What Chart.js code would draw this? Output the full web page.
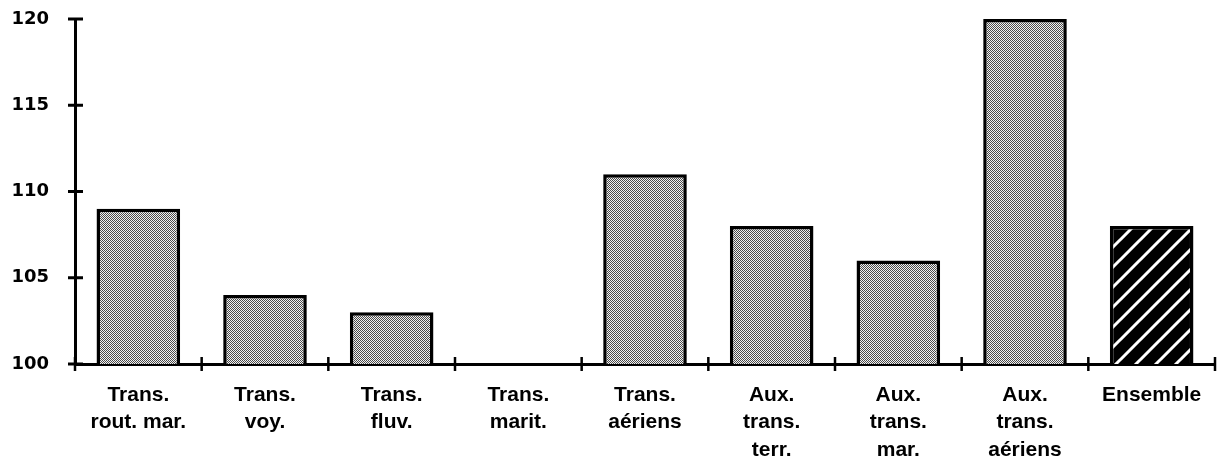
<!DOCTYPE html>
<html>
<head>
<meta charset="utf-8">
<script src="https://cdn.jsdelivr.net/npm/chart.js@4.4.1/dist/chart.umd.min.js"></script>
<style>
  html, body { margin: 0; padding: 0; background: #fff; }
  #wrap { width: 1220px; height: 460px; }
</style>
</head>
<body>
<div id="wrap"><canvas id="chart" width="1220" height="460"></canvas></div>
<script>
// categories and values
const categories = [
  ["Trans.", "rout. mar."],
  ["Trans.", "voy."],
  ["Trans.", "fluv."],
  ["Trans.", "marit."],
  ["Trans.", "aériens"],
  ["Aux.", "trans.", "terr."],
  ["Aux.", "trans.", "mar."],
  ["Aux.", "trans.", "aériens"],
  ["Ensemble"]
];
const values = [109, 104, 103, 100, 111, 108, 106, 120, 108];
const yTicks = [100, 105, 110, 115, 120];

// stippled grey fill (fine checkerboard)
function makeStipple() {
  const c = document.createElement("canvas");
  c.width = 2; c.height = 2;
  const g = c.getContext("2d");
  g.fillStyle = "#f2f2f2";
  g.fillRect(0, 0, 2, 2);
  g.fillStyle = "#4a4a4a";
  g.fillRect(0, 0, 1, 1);
  g.fillRect(1, 1, 1, 1);
  return g.createPattern(c, "repeat");
}

// black with white diagonal stripes
function makeHatch() {
  const s = 20;
  const c = document.createElement("canvas");
  c.width = s; c.height = s;
  const g = c.getContext("2d");
  g.fillStyle = "#000";
  g.fillRect(0, 0, s, s);
  g.strokeStyle = "#fff";
  g.lineWidth = 3;
  g.beginPath();
  g.moveTo(0, s); g.lineTo(s, 0);
  g.moveTo(-s / 2, s / 2); g.lineTo(s / 2, -s / 2);
  g.moveTo(s / 2, s * 1.5); g.lineTo(s * 1.5, s / 2);
  g.stroke();
  return g.createPattern(c, "repeat");
}

const stipple = makeStipple();
const hatch = makeHatch();
const fills = values.map((v, i) => i === values.length - 1 ? hatch : stipple);

// tick marks that cross the axes
const crossTicks = {
  id: "crossTicks",
  afterDraw(chart) {
    const ctx = chart.ctx;
    const x = chart.scales.x, y = chart.scales.y;
    ctx.save();
    ctx.strokeStyle = "#000";
    ctx.lineWidth = 3;
    yTicks.forEach(t => {
      const py = y.getPixelForValue(t);
      ctx.beginPath();
      ctx.moveTo(y.right - 7, py);
      ctx.lineTo(y.right + 8, py);
      ctx.stroke();
    });
    ctx.lineWidth = 2.5;
    for (let i = 0; i <= categories.length; i++) {
      const px = x.getPixelForValue(i - 0.5);
      ctx.beginPath();
      ctx.moveTo(px, x.top - 7);
      ctx.lineTo(px, x.top + 7);
      ctx.stroke();
    }
    ctx.restore();
  }
};

new Chart(document.getElementById("chart").getContext("2d"), {
  type: "bar",
  data: {
    labels: categories,
    datasets: [{
      data: values,
      backgroundColor: fills,
      borderColor: "#000",
      borderWidth: 3.5,
      barPercentage: 0.66,
      categoryPercentage: 1
    }]
  },
  options: {
    responsive: false,
    animation: false,
    maintainAspectRatio: false,
    layout: { padding: { top: 19, right: 5, left: 0, bottom: 0 } },
    plugins: { legend: { display: false }, tooltip: { enabled: false } },
    scales: {
      x: {
        offset: true,
        grid: { display: false },
        border: { display: true, color: "#000", width: 3 },
        ticks: {
          color: "#000",
          font: { family: "Liberation Sans", size: 21, weight: "bold", lineHeight: 1.31 },
          padding: 9,
          maxRotation: 0,
          autoSkip: false
        },
        afterFit(scale) {
          scale.height = 96;
          scale.paddingTop = 0;
          scale.paddingBottom = 0;
        }
      },
      y: {
        min: 100,
        max: 120,
        grid: { display: false },
        border: { display: true, color: "#000", width: 3 },
        ticks: {
          stepSize: 5,
          color: "#000",
          font: { family: "DejaVu Sans", size: 18, weight: "bold" },
          padding: 18
        },
        afterFit(scale) {
          scale.width = 75;
          scale.paddingTop = 0;
          scale.paddingBottom = 0;
        }
      }
    }
  },
  plugins: [crossTicks]
});
</script>
</body>
</html>
